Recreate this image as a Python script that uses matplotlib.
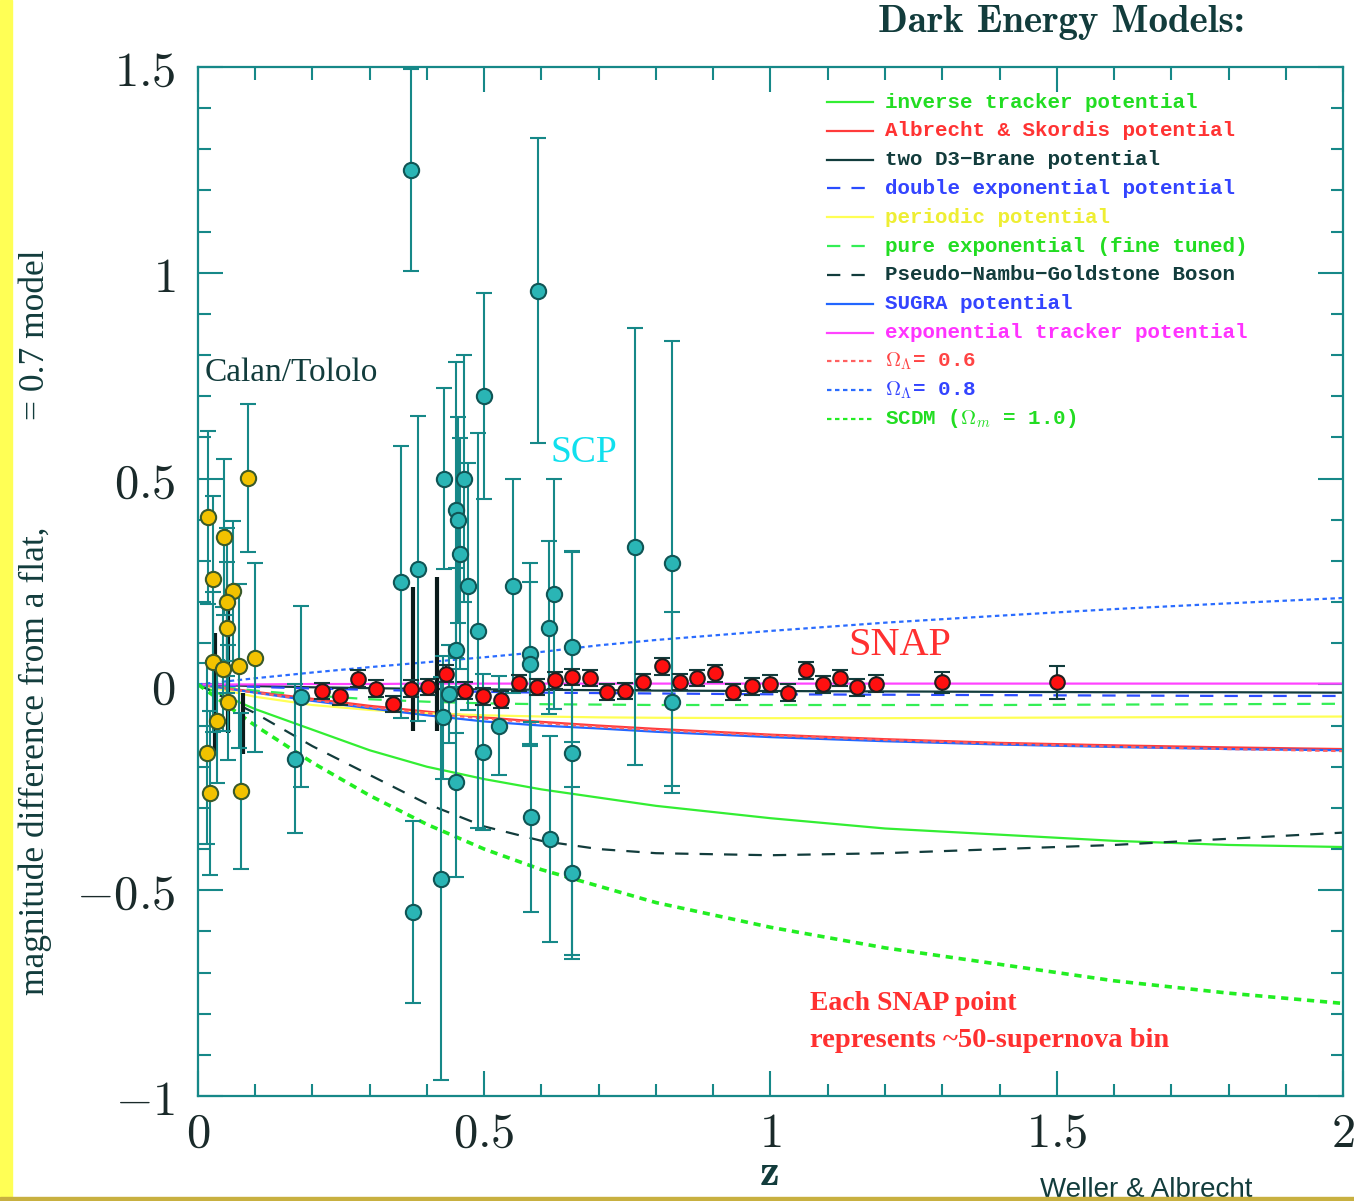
import matplotlib
matplotlib.use("Agg")
import matplotlib.pyplot as plt
from matplotlib.ticker import MultipleLocator, FuncFormatter
from matplotlib.patches import Rectangle

plt.rcParams['mathtext.fontset'] = 'cm'

# model curves: magnitude difference relative to flat Lambda = 0.7
model_z = [0, 0.1, 0.2, 0.3, 0.4, 0.5, 0.6, 0.7, 0.8, 1.0, 1.2, 1.4, 1.6, 1.8, 2.0]
inverse_tracker = [0, -0.06, -0.11, -0.16, -0.20, -0.23, -0.255, -0.275, -0.295, -0.325, -0.35, -0.365, -0.38, -0.39, -0.395]
albrecht_skordis = [0, -0.018, -0.035, -0.052, -0.066, -0.08, -0.091, -0.10, -0.108, -0.122, -0.133, -0.142, -0.148, -0.153, -0.157]
two_d3_brane = [0, -0.004, -0.007, -0.009, -0.011, -0.012, -0.013, -0.014, -0.015, -0.016, -0.017, -0.018, -0.019, -0.019, -0.02]
double_exponential = [0, -0.006, -0.01, -0.013, -0.016, -0.018, -0.02, -0.021, -0.022, -0.024, -0.025, -0.026, -0.027, -0.028, -0.028]
periodic = [0, -0.03, -0.05, -0.062, -0.07, -0.075, -0.078, -0.08, -0.081, -0.082, -0.082, -0.081, -0.08, -0.079, -0.078]
pure_exponential = [0, -0.015, -0.027, -0.036, -0.042, -0.046, -0.048, -0.049, -0.05, -0.05, -0.05, -0.05, -0.049, -0.048, -0.047]
pngb = [0, -0.07, -0.15, -0.22, -0.29, -0.345, -0.38, -0.40, -0.41, -0.415, -0.41, -0.40, -0.39, -0.375, -0.36]
sugra = [0, -0.02, -0.04, -0.058, -0.075, -0.09, -0.10, -0.107, -0.115, -0.128, -0.138, -0.146, -0.152, -0.157, -0.16]
exponential_tracker = [0, 0.0, 0.001, 0.001, 0.002, 0.002, 0.002, 0.002, 0.002, 0.002, 0.002, 0.002, 0.002, 0.002, 0.002]
omega_l_06 = [0, -0.02, -0.038, -0.055, -0.07, -0.083, -0.094, -0.103, -0.111, -0.124, -0.135, -0.144, -0.151, -0.157, -0.162]
omega_l_08 = [0, 0.015, 0.029, 0.042, 0.054, 0.066, 0.079, 0.095, 0.108, 0.13, 0.15, 0.167, 0.183, 0.197, 0.21]
scdm = [0, -0.10, -0.19, -0.27, -0.34, -0.40, -0.45, -0.49, -0.53, -0.59, -0.64, -0.68, -0.72, -0.75, -0.775]

model_labels = ["inverse tracker potential", "Albrecht & Skordis potential",
                "two D3\u2212Brane potential", "double exponential potential",
                "periodic potential", "pure exponential (fine tuned)",
                "Pseudo\u2212Nambu\u2212Goldstone Boson", "SUGRA potential",
                "exponential tracker potential", r"$\Omega_\Lambda$= 0.6",
                r"$\Omega_\Lambda$= 0.8", r"SCDM ($\Omega_m$ = 1.0)"]

# Calan/Tololo supernovae
ct_z = [0.018, 0.026, 0.046, 0.062, 0.050, 0.051, 0.088, 0.100, 0.026, 0.044, 0.072, 0.053, 0.033, 0.015, 0.021, 0.076]
ct_m = [0.406, 0.257, 0.358, 0.227, 0.200, 0.138, 0.502, 0.065, 0.054, 0.038, 0.045, -0.043, -0.090, -0.167, -0.264, -0.259]
ct_err = [0.21, 0.20, 0.19, 0.17, 0.18, 0.16, 0.18, 0.23, 0.17, 0.15, 0.20, 0.14, 0.15, 0.22, 0.20, 0.19]

# Supernova Cosmology Project
scp_z = [0.18, 0.17, 0.354, 0.372, 0.375, 0.385, 0.424, 0.430, 0.428, 0.439, 0.450, 0.455, 0.458, 0.450,
         0.450, 0.465, 0.472, 0.490, 0.497, 0.500, 0.551, 0.594, 0.580, 0.580, 0.581, 0.614, 0.621, 0.615,
         0.654, 0.654, 0.654, 0.526, 0.763, 0.828, 0.828]
scp_m = [-0.03, -0.18, 0.249, 1.249, -0.553, 0.281, -0.472, 0.500, -0.08, -0.023, 0.423, 0.400, 0.318, 0.083,
         -0.237, 0.500, 0.238, 0.131, -0.164, 0.700, 0.240, 0.957, 0.075, 0.050, -0.322, 0.138, 0.220, -0.375,
         0.091, -0.167, -0.458, -0.10, 0.335, 0.294, -0.043]
scp_err = [0.22, 0.18, 0.33, 0.245, 0.22, 0.37, 0.49, 0.22, 0.15, 0.12, 0.36, 0.25, 0.28, 0.20,
           0.23, 0.30, 0.30, 0.48, 0.19, 0.25, 0.26, 0.37, 0.22, 0.20, 0.23, 0.21, 0.28, 0.25,
           0.23, 0.49, 0.21, 0.12, 0.53, 0.54, 0.22]

# dark overlapping bars in the low-z and z~0.4 clusters
dark_z = [0.030, 0.052, 0.079, 0.375, 0.417]
dark_lo = [-0.168, -0.119, -0.168, -0.112, -0.112]
dark_hi = [0.124, 0.187, -0.022, 0.236, 0.260]

# simulated SNAP bins
snap_z = [0.216, 0.248, 0.280, 0.311, 0.341, 0.372, 0.402, 0.434, 0.466, 0.498, 0.529, 0.561, 0.592, 0.624,
          0.654, 0.685, 0.714, 0.746, 0.777, 0.810, 0.842, 0.872, 0.903, 0.934, 0.967, 1.000, 1.030, 1.062,
          1.092, 1.121, 1.151, 1.184, 1.300, 1.500]
snap_m = [-0.016, -0.029, 0.014, -0.010, -0.047, -0.010, -0.006, 0.026, -0.015, -0.029, -0.037, 0.003, -0.006,
          0.010, 0.018, 0.016, -0.019, -0.016, 0.006, 0.044, 0.006, 0.015, 0.027, -0.019, -0.005, 0.002, -0.020,
          0.034, 0.000, 0.015, -0.007, 0.002, 0.005, 0.005]
snap_err = [0.02] * 32 + [0.025, 0.04]

teal = '#168888'
dark = '#123c3c'

curves = [inverse_tracker, albrecht_skordis, two_d3_brane, double_exponential, periodic,
          pure_exponential, pngb, sugra, exponential_tracker, omega_l_06, omega_l_08, scdm]
dash = (0, (6, 5))
dot = (0, (2, 1.6))
styles = [('#33ee33', '-', '#22dd22'), ('#ff3b3b', '-', '#ff3333'), (dark, '-', dark),
          ('#2a4cff', dash, '#3344ff'), ('#ffff55', '-', '#eeee33'), ('#33ee55', dash, '#22dd22'),
          (dark, dash, dark), ('#2266ff', '-', '#3344ff'), ('#ff44ff', '-', '#ff33ff'),
          ('#ff6060', dot, '#ff4444'), ('#2a6cff', dot, '#3344ff'), ('#22ee22', dot, '#22dd22')]

fig = plt.figure(figsize=(13.54, 12.01), dpi=100)
ax = fig.add_axes([0.1462, 0.0874, 0.8457, 0.8568])

for vals, (col, ls, _) in zip(curves, styles):
    lw = 2.6 if vals is scdm else 1.6
    ax.plot(model_z, vals, color=col, linestyle=ls, linewidth=lw, zorder=2)

ax.vlines(dark_z, dark_lo, dark_hi, color='#0a1a1a', linewidth=3.0, zorder=3)

ax.errorbar(ct_z, ct_m, yerr=ct_err, fmt='o', color=teal, ecolor=teal, elinewidth=1.5,
            capsize=5.5, capthick=1.5, markersize=11, markerfacecolor='#f2c200',
            markeredgecolor='#3a5a2a', markeredgewidth=1.5, zorder=4)
ax.errorbar(scp_z, scp_m, yerr=scp_err, fmt='o', color=teal, ecolor=teal, elinewidth=1.5,
            capsize=5.5, capthick=1.5, markersize=11, markerfacecolor='#2ab5b5',
            markeredgecolor='#105555', markeredgewidth=1.5, zorder=4)
ax.errorbar(snap_z, snap_m, yerr=snap_err, fmt='o', color=dark, ecolor=dark, elinewidth=1.5,
            capsize=5.5, capthick=1.5, markersize=10.5, markerfacecolor='#ff1010',
            markeredgecolor='#202020', markeredgewidth=1.5, zorder=5)

# legend drawn row by row at the top right
for i, (lab, (col, ls, tcol)) in enumerate(zip(model_labels, styles)):
    y = 0.966 - i * 0.028
    ax.plot([0.549, 0.5895], [y, y], transform=ax.transAxes, color=col, linestyle=ls,
            linewidth=1.6, zorder=6)
    ax.text(0.600, y, lab, transform=ax.transAxes, color=tcol, fontsize=15,
            family=['Liberation Mono', 'DejaVu Sans Mono'], weight='bold', va='center', zorder=6)

ax.set_xlim(0, 2)
ax.set_ylim(-1, 1.5)
ax.xaxis.set_major_locator(MultipleLocator(0.5))
ax.xaxis.set_minor_locator(MultipleLocator(0.1))
ax.yaxis.set_major_locator(MultipleLocator(0.5))
ax.yaxis.set_minor_locator(MultipleLocator(0.1))
ax.xaxis.set_major_formatter(FuncFormatter(lambda v, p: '$%g$' % v))
ax.yaxis.set_major_formatter(FuncFormatter(lambda v, p: '$%g$' % v))
ax.tick_params(which='both', direction='in', top=True, right=True, color=teal, width=1.5)
ax.tick_params(which='major', length=18, labelsize=35, labelcolor='#1a2a2a')
ax.tick_params(axis='x', which='major', pad=9)
ax.tick_params(axis='y', which='major', pad=16)
ax.tick_params(which='minor', length=9)
for sp in ax.spines.values():
    sp.set_color(teal)
    sp.set_linewidth(1.6)

ax.text(0.012, 0.758, "Calan/Tololo", color=dark, fontsize=24, family='Liberation Serif', va='center')
ax.text(0.615, 0.564, "SCP", color='#10e0ee', fontsize=27, family='Liberation Serif', va='center')
ax.text(1.135, 0.095, "SNAP", color='#ff3030', fontsize=29, family='Liberation Serif', va='center')
ax.text(1.069, -0.775, "Each SNAP point", color='#ff3030', fontsize=20, family='Liberation Serif',
        weight='bold', va='center')
ax.text(1.069, -0.865, "represents ~50-supernova bin", color='#ff3030', fontsize=20.5,
        family='Liberation Serif', weight='bold', va='center')

fig.text(0.6485, 0.981, "Dark Energy Models:", family='cmb10', fontsize=28, color=dark, va='center')
fig.text(0.5685, 0.022, "z", family='cmb10', fontsize=32, color=dark, ha='center', va='center')
fig.text(0.026, 0.482, "magnitude difference from a flat,            = 0.7 model", rotation=90,
         family='Liberation Serif', fontsize=25.5, color=dark, ha='center', va='center')
fig.text(0.768, 0.009, "Weller & Albrecht", family='Liberation Sans', fontsize=20, color=dark, va='center')

# coloured border strips
fig.patches.append(Rectangle((0, 0), 0.009, 1, transform=fig.transFigure, color='#ffff55', zorder=10))
fig.patches.append(Rectangle((0, 0), 1, 0.003, transform=fig.transFigure, color='#c8b040', zorder=10))

fig.savefig("out.png", dpi=100)
